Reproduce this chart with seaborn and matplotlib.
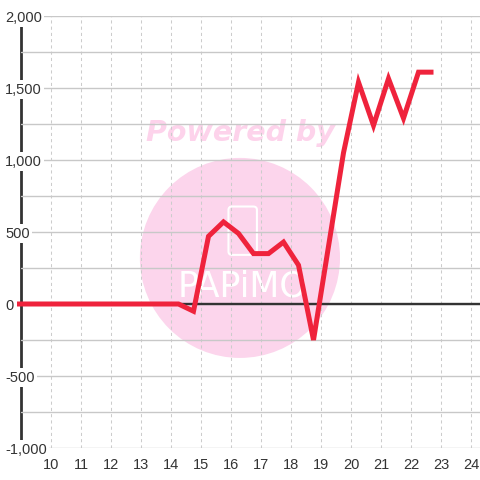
import matplotlib
matplotlib.use("Agg")
import matplotlib.pyplot as plt
import seaborn as sns
import pandas as pd
from matplotlib.ticker import MultipleLocator, FuncFormatter
from matplotlib.patches import Ellipse, FancyBboxPatch, Rectangle

# ---- data ----
x_values = [8.75, 9.25, 9.75, 10.25, 10.75, 11.25, 11.75, 12.25, 12.75, 13.25, 13.75,
            14.25, 14.75, 15.25, 15.75, 16.25, 16.75, 17.25, 17.75, 18.25, 18.75,
            19.25, 19.75, 20.25, 20.75, 21.25, 21.75, 22.25, 22.75]
y_values = [0, 0, 0, 0, 0, 0, 0, 0, 0, 0, 0,
            0, -50, 470, 570, 490, 350, 350, 430, 270, -250,
            400, 1050, 1540, 1240, 1565, 1290, 1610, 1610]
x_ticks = list(range(10, 25))
y_ticks = [-1000, -500, 0, 500, 1000, 1500, 2000]

df = pd.DataFrame({"x": x_values, "y": y_values})

sns.set_style("white")
plt.rcParams["font.family"] = ["Liberation Sans", "DejaVu Sans"]

fig = plt.figure(figsize=(4.8, 4.8), dpi=100)
ax = fig.add_axes([21 / 480, 32 / 480, 459 / 480, 432 / 480])
ax.set_facecolor("white")

# watermark
ax.add_patch(Ellipse((0.477, 0.440), 0.436, 0.463, transform=ax.transAxes,
                     facecolor="#fcd5ec", edgecolor="none", zorder=0.2))
ax.text(0.479, 0.729, "Powered by", transform=ax.transAxes, ha="center", va="center",
        fontsize=20.5, fontweight="bold", fontstyle="italic", color="#fdd3eb",
        family="DejaVu Sans", zorder=0.3)
ax.add_patch(FancyBboxPatch((0.452, 0.447), 0.062, 0.112, transform=ax.transAxes,
                            boxstyle="round,pad=0,rounding_size=0.008",
                            facecolor="none", edgecolor="white", lw=1.5, zorder=0.3))
ax.text(0.483, 0.373, "PAPiMO", transform=ax.transAxes, ha="center", va="center",
        fontsize=25, color="white", family="DejaVu Sans", fontweight="normal",
        zorder=0.3)

sns.lineplot(data=df, x="x", y="y", ax=ax, color="#ef233c", linewidth=3.6,
             zorder=3, solid_joinstyle="miter", solid_capstyle="butt")
clip_rect = Rectangle((-4 / 459, 0), 1 + 4 / 459, 1, transform=ax.transAxes,
                      facecolor="none", edgecolor="none")
ax.lines[-1].set_clip_path(clip_rect)

ax.axhline(0, color="#333333", lw=1.7, zorder=2)

ax.set_xlim(9, 24.3)
ax.set_ylim(-1000, 2000)
ax.set_xticks(x_ticks)
ax.set_yticks(y_ticks)
ax.yaxis.set_minor_locator(MultipleLocator(250))
ax.yaxis.set_major_formatter(FuncFormatter(lambda v, p: f"{int(v):,}"))

ax.grid(False)
ax.grid(axis="y", which="both", color="#c8c8c8", lw=1.0, linestyle="-")
ax.grid(axis="x", which="major", color="#cccccc", lw=0.75, linestyle=(0, (3, 3)))

for s in ["top", "right", "bottom"]:
    ax.spines[s].set_visible(False)
ax.spines["left"].set_color("#333333")
ax.spines["left"].set_linewidth(2.0)
ax.spines["left"].set_zorder(1)
ax.yaxis.set_zorder(1.5)

ax.tick_params(axis="both", which="both", length=0)
ax.tick_params(axis="y", pad=11.5, labelsize=10.5, labelcolor="#333333")
ax.tick_params(axis="x", pad=7, labelsize=10.5, labelcolor="#333333")
for lab in ax.get_yticklabels():
    lab.set_horizontalalignment("left")
    lab.set_bbox(dict(facecolor="white", edgecolor="none", pad=1.5))

ax.set_xlabel("")
ax.set_ylabel("")

fig.savefig("out.png", dpi=100)
